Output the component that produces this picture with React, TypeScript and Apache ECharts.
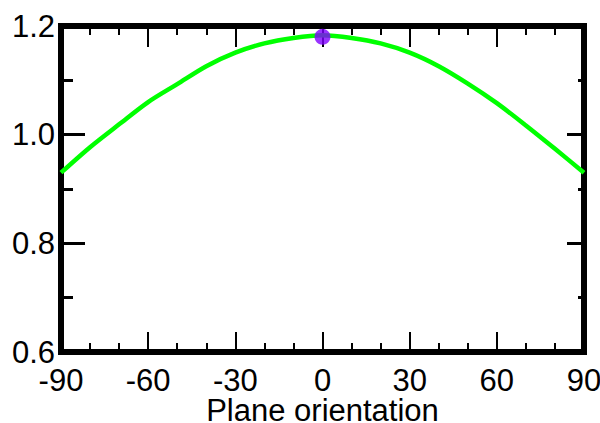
import React, { useEffect, useRef } from "react";
import * as echarts from "echarts";

const angles = [-90, -80, -70, -60, -50, -40, -30, -20, -10, 0, 10, 20, 30, 40, 50, 60, 70, 80, 90];
const values = [0.930, 0.977, 1.019, 1.060, 1.093, 1.126, 1.151, 1.168, 1.178, 1.183, 1.178, 1.168, 1.151, 1.126, 1.094, 1.058, 1.017, 0.974, 0.930];
const markerPoint = [[0, 1.18]];
const xTicks = { min: -90, max: 90, interval: 30 };
const yTicks = { min: 0.6, max: 1.2, interval: 0.2 };
const xName = "Plane orientation";

const FONT = "'Liberation Sans', Arial, sans-serif";

export default function App() {
  const ref = useRef<HTMLDivElement>(null);
  useEffect(() => {
    if (!ref.current) return;
    const chart = echarts.init(ref.current, null, { renderer: "svg" });
    const axisLine = { show: true, onZero: false, lineStyle: { color: "#000", width: 6, cap: "square" as const } };
    const xt = { color: "#000", width: 2 };
    const yt = { color: "#000", width: 3 };
    chart.setOption({
      animation: false,
      backgroundColor: "#fff",
      grid: { left: 61, right: 16, top: 26, bottom: 71, containLabel: false, outerBoundsMode: "none" },
      xAxis: [
        {
          type: "value",
          position: "bottom",
          min: xTicks.min,
          max: xTicks.max,
          interval: xTicks.interval,
          axisLine,
          axisTick: { show: true, inside: true, length: 20, lineStyle: xt },
          minorTick: { show: true, splitNumber: 3, length: 9, lineStyle: xt },
          splitLine: { show: false },
          axisLabel: { show: true, color: "#000", fontSize: 31, lineHeight: 22, fontFamily: FONT, margin: 17 },
          name: xName,
          nameLocation: "middle",
          nameGap: 47,
          nameMoveOverlap: false,
          nameTextStyle: { color: "#000", fontSize: 31, lineHeight: 22, fontFamily: FONT },
        },
        {
          type: "value",
          position: "top",
          min: xTicks.min,
          max: xTicks.max,
          interval: xTicks.interval,
          axisLine,
          axisTick: { show: true, inside: true, length: 21, lineStyle: xt },
          minorTick: { show: true, splitNumber: 3, length: 9, lineStyle: xt },
          splitLine: { show: false },
          axisLabel: { show: false },
        },
      ],
      yAxis: [
        {
          type: "value",
          position: "left",
          min: yTicks.min,
          max: yTicks.max,
          interval: yTicks.interval,
          axisLine,
          axisTick: { show: true, inside: true, length: 24, lineStyle: yt },
          minorTick: { show: true, splitNumber: 2, length: 12, lineStyle: yt },
          splitLine: { show: false },
          axisLabel: {
            show: true,
            color: "#000",
            fontSize: 31,
            lineHeight: 22,
            fontFamily: FONT,
            margin: 6,
            formatter: (v: number) => v.toFixed(1),
          },
        },
        {
          type: "value",
          position: "right",
          min: yTicks.min,
          max: yTicks.max,
          interval: yTicks.interval,
          axisLine,
          axisTick: { show: true, inside: true, length: 17, lineStyle: yt },
          minorTick: { show: true, splitNumber: 2, length: 6, lineStyle: yt },
          splitLine: { show: false },
          axisLabel: { show: false },
        },
      ],
      series: [
        {
          type: "line",
          xAxisIndex: 0,
          yAxisIndex: 0,
          data: angles.map((a, i) => [a, values[i]]),
          smooth: 0.3,
          showSymbol: false,
          symbol: "none",
          lineStyle: { color: "#00ff00", width: 4.5 },
          z: 2,
        },
        {
          type: "scatter",
          xAxisIndex: 0,
          yAxisIndex: 0,
          data: markerPoint,
          symbol: "circle",
          symbolSize: 16,
          itemStyle: { color: "#7f00ff" },
          z: 3,
        },
      ],
    });
    return () => chart.dispose();
  }, []);
  return (
    <div
      ref={ref}
      style={{ position: "fixed", left: 0, top: 0, width: 600, height: 423, background: "#fff" }}
    />
  );
}
